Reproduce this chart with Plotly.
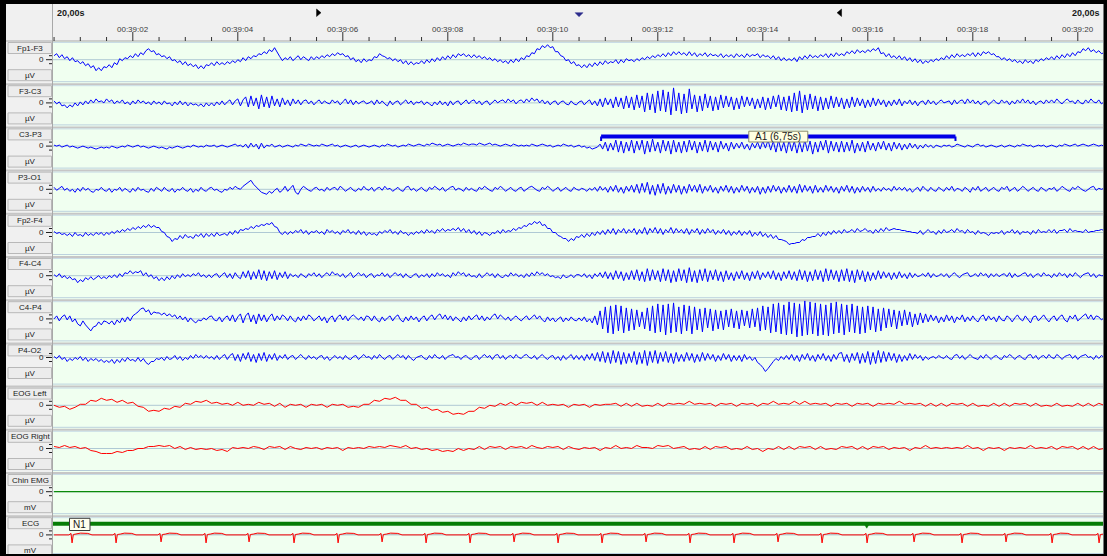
import numpy as np
import plotly.graph_objects as go

# ---------------------------------------------------------------------------
# Recording data (20 s page starting at 00:39:00.5); amplitudes in display units
# ---------------------------------------------------------------------------
EEG_DT = 0.05
EOG_DT = 0.1
T_START = 0.5

channel_names = ["Fp1-F3", "F3-C3", "C3-P3", "P3-O1", "Fp2-F4", "F4-C4",
                 "C4-P4", "P4-O2", "EOG Left", "EOG Right", "Chin EMG", "ECG"]
channel_units = ["µV"] * 10 + ["mV", "mV"]

time_tick_seconds = [2, 4, 6, 8, 10, 12, 14, 16, 18, 20]
time_tick_labels = ["00:39:02", "00:39:04", "00:39:06", "00:39:08", "00:39:10",
                    "00:39:12", "00:39:14", "00:39:16", "00:39:18", "00:39:20"]
page_length_label = "20,00s"

fp1_f3 = [
    4, 6, 2, 5, 1, 3, -1, 2, -2, -1, -4, -2, -6, -4, -8, -6, -11, -8, -11, -7,
    -8, -5, -8, -3, -5, 1, -1, 2, 1, 4, 2, 6, 3, 7, 5, 9, 11, 8, 9, 5,
    6, 3, 4, 1, 3, -1, 0, -3, -1, -5, -2, -6, -4, -7, -5, -9, -6, -9, -5, -6,
    -3, -6, -2, -5, -3, -5, -2, -4, -1, -3, 0, -2, 2, -1, 3, 1, 4, 3, 6, 5,
    8, 6, 10, 8, 12, 7, 3, -1, 2, 0, 3, -1, 2, 4, 0, 3, 1, -1, 3, 0,
    3, 1, 4, 2, 5, 3, 6, 4, 7, 5, 6, 3, 4, 0, 2, -2, 0, -3, 1, -2,
    0, -1, 3, 2, 6, 4, 3, 1, 2, -1, 1, -2, 0, -4, -1, -5, -2, -5, -3, -4,
    -1, -4, 0, -3, 1, -2, 2, -1, 3, 0, 4, 1, 5, 2, 6, 4, 6, 3, 5, 2,
    5, 2, 4, 1, 3, 0, 2, -1, 1, -2, 0, -3, -1, -4, 0, -3, 1, -2, 2, 0,
    4, 3, 7, 6, 11, 10, 14, 12, 15, 12, 13, 8, 8, 4, 3, -1, 0, -4, -2, -6,
    -5, -8, -5, -8, -4, -7, -3, -6, -2, -5, -1, -4, -2, -3, 0, -4, 0, -3, 1, -1,
    0, -2, 1, -1, 2, 0, 3, 1, 4, 2, 5, 3, 6, 3, 7, 4, 8, 5, 8, 5,
    7, 4, 8, 4, 7, 3, 6, 4, 7, 3, 6, 4, 5, 3, 6, 2, 5, 3, 5, 2,
    6, 3, 5, 2, 6, 3, 5, 4, 6, 2, 5, 3, 4, 1, 4, 0, 3, -1, 2, -1,
    1, -1, 2, -2, 3, 0, 4, 1, 5, 2, 4, 2, 5, 3, 6, 2, 6, 3, 7, 4,
    6, 4, 8, 6, 9, 6, 10, 7, 9, 7, 10, 8, 11, 9, 12, 6, 7, 3, 6, 2,
    4, 1, 4, 0, 3, -1, 2, -2, 1, -3, 0, -4, -1, -3, 0, -2, 1, -1, 2, 0,
    4, 1, 5, 2, 6, 3, 5, 3, 6, 4, 7, 3, 7, 4, 8, 6, 8, 5, 6, 3,
    3, 0, 2, -1, 1, -2, 0, -3, -1, -4, 0, -3, -1, -4, 0, -2, 1, -1, 2, 0,
    3, 0, 4, 1, 5, 2, 6, 3, 7, 4, 8, 7, 11, 9, 12, 8, 10, 7, 9, 6,
    7,
]

f3_c3 = [
    2, -1, 1, -3, -2, -5, -2, -4, 0, -3, 1, -2, 2, -1, 3, 0, 4, 1, 2, 0,
    4, 1, 3, -1, 2, 0, 3, -1, 1, -2, 2, -1, 3, 0, 2, -1, 1, -2, 2, -1,
    1, -2, 2, -1, 0, -3, 1, -2, 2, -2, 1, -3, 0, -2, -1, -3, -1, -4, 0, -3,
    0, -3, 1, -2, 2, -2, 1, 3, -2, 2, 4, -3, 3, 6, -4, 7, -3, 5, -6, 8,
    -4, 6, -5, 7, -3, 4, -4, 5, -2, 3, -3, 4, -1, 3, -2, 2, 3, -1, 2, -2,
    1, 3, -1, 2, 0, -1, 3, 0, 2, -2, 1, 4, -1, 3, -2, 2, -1, 1, 2, -1,
    0, 2, -2, 3, -1, 2, -1, -3, 2, -2, 1, 2, -2, 1, 3, -1, 2, -2, 1, 0,
    2, -2, 1, -1, -3, 1, -2, 2, -2, 1, -3, 2, -2, 1, 2, -2, 1, 3, -1, 2,
    3, -1, 2, -2, 1, 2, -2, 1, 3, 0, 2, 3, 0, 4, 1, 3, -1, 2, 3, 0,
    4, 1, 5, 2, 4, 0, 3, -1, 2, -2, 1, 2, -2, 1, 2, -1, -2, 2, -1, -2,
    1, 2, -2, 1, 3, -2, 2, -3, 4, -4, 5, -2, 4, -5, 6, -4, 5, -6, 7, -5,
    6, -7, 8, -5, 7, -9, 10, -7, 9, -10, 12, -8, 13, -9, 11, -12, 15, -8, 10, -11,
    9, -10, 14, -6, 8, -9, 7, -8, 9, -5, 7, -8, 6, -7, 8, -5, 7, -4, 6, -7,
    5, -6, 7, -4, 6, -3, 5, -6, 4, -5, 6, -7, 5, -6, 7, -4, 8, -7, 6, -8,
    7, -9, 10, -8, 12, -10, 8, -7, 9, -6, 7, -8, 6, -7, 5, -6, 7, -5, 6, -4,
    5, -6, 4, -5, 6, -4, 5, -3, 4, -5, 3, -4, 5, -3, 4, -2, 3, -4, 2, -3,
    3, -2, 4, -3, 2, -1, 3, -2, 2, -3, 1, 2, -2, 3, -1, 2, -2, 1, 3, 0,
    1, 2, -2, 3, -1, 2, 3, -1, 4, 0, 3, -1, 2, -2, 1, 2, -2, 1, 3, 0,
    -1, 3, 0, 2, -2, 2, -1, 3, 0, 4, 0, 3, -1, 2, -2, 1, 2, -1, 3, 0,
    3, 0, 4, 1, -1, 2, 4, 1, 2, -1, 3, 0, -1, 3, 0, 4, 1, 0, 3, -1,
    1,
]

c3_p3 = [
    1, 0, 1, -1, 0, 1, -1, 0, -1, -2, -1, 0, -1, -2, -1, -2, -3, -2, -1, -2,
    -1, -2, 0, -1, -2, -1, 0, -1, 1, 0, -1, 0, 1, -1, 0, -1, -2, -1, 0, -1,
    -2, -1, -2, -3, -1, -2, -1, 0, -1, -2, -1, 0, -1, 1, 0, -1, 0, -1, 1, 0,
    0, 1, -1, 0, 1, 0, -1, 0, 1, 2, 0, 1, -1, 2, -2, 3, -1, 2, -3, 3,
    -2, 1, 0, 2, -1, 0, 1, -1, 0, 1, 0, -1, 1, 0, 2, 1, 0, 2, 1, 0,
    1, 0, 2, 1, 0, 1, 2, 0, 1, -1, 0, 1, 0, -1, 0, 1, -1, 0, 1, 0,
    -1, 0, 1, 0, -1, 1, 0, 2, 1, 0, 1, -1, 0, 1, 0, 2, 1, 0, 1, 2,
    1, 0, 2, 1, 3, 2, 1, 2, 0, 1, 2, 1, 0, 1, 2, 1, 3, 2, 1, 2,
    2, 1, 3, 2, 1, 2, 3, 1, 2, 1, 0, 1, 2, 1, 0, 2, 1, 0, 1, 0,
    1, 0, 2, 1, 0, 1, 2, 1, 0, 1, -1, 0, 1, 0, 2, 1, 0, 1, -1, 0,
    1, -1, 0, -2, -1, -3, -2, -1, 2, -3, 4, -5, 3, -4, 6, -6, 5, -7, 4, -5,
    6, -7, 5, -4, 6, -8, 5, -6, 7, -5, 4, -7, 6, -5, 5, -8, 6, -6, 4, -7,
    5, -6, 6, -4, 5, -7, 4, -5, 6, -6, 5, -4, 4, -6, 5, -3, 3, -5, 4, -3,
    3, -2, 4, -3, 2, -4, 3, -2, 4, -3, 5, -2, 6, -4, 5, -6, 6, -5, 4, -7,
    6, -5, 5, -7, 4, -6, 6, -5, 5, -8, 4, -6, 5, -4, 6, -7, 5, -5, 4, -6,
    5, -6, 4, -5, 6, -7, 3, -5, 4, -6, 5, -4, 3, -5, 4, -3, 5, -4, 3, -5,
    4, -3, 3, -4, 2, -3, 3, -2, 2, -3, 1, -2, 2, -1, 1, -2, 1, 0, -1, 1,
    0, 1, -1, 0, 2, 1, 0, -1, 1, 0, -1, 1, 2, 0, 1, -1, 0, 1, 0, -1,
    0, 1, -1, 0, 1, 0, -1, 1, 0, 2, 1, 0, 1, -1, 0, 1, 0, 1, -1, 0,
    1, 0, -1, 1, 0, 2, 1, 0, 1, 2, 0, 1, 2, 1, 0, 1, 2, 1, 0, 1,
    0,
]

p3_o1 = [
    2, -1, 1, 3, -1, 1, -2, 0, -3, 1, -2, 2, -1, 1, -2, -3, 0, -1, 2, -1,
    -2, 1, -3, 0, -1, 2, -2, 1, -1, -3, 1, -2, 2, -1, 0, -2, -3, 1, -2, 2,
    0, -2, 2, -1, -2, 1, -3, 0, -1, 2, -1, -2, 1, -3, 0, -2, 2, -1, -2, 1,
    2, -1, 0, -2, -3, 0, -1, 2, 0, 3, 1, 0, 3, 5, 7, 9, 5, 2, -1, -3,
    -4, -5, -2, -4, -1, 1, -3, -1, 3, -2, 1, 4, -3, -5, 0, 3, 1, -1, -2, 1,
    2, -1, 0, -2, 2, -1, 1, 2, -1, 3, 1, -2, 0, 2, -1, -2, 1, -1, 3, 0,
    -1, 2, -2, 1, 2, -1, 3, 0, 1, -2, 0, 2, -1, -2, 2, 3, -1, 1, -2, 0,
    2, -1, -2, 2, 0, 3, 1, -1, 2, -2, 0, 2, 3, -1, 1, 0, -2, 2, -1, 1,
    -1, -2, 2, 0, 3, 1, -1, -2, 2, 0, 3, 1, -2, 0, 2, -1, -2, 1, 2, -2,
    0, 2, 3, 1, -1, -2, 2, 0, 3, 1, -2, 0, 2, -2, 0, 2, -1, -2, 2, 0,
    -1, 1, 0, -2, 1, -1, 2, -2, 3, -1, 2, -3, 3, -2, 4, -3, 2, -4, 3, -2,
    4, -3, 5, -4, 6, -3, 7, -5, 4, -6, 5, -4, 6, -5, 3, -4, 5, -3, 4, -5,
    3, -4, 5, -2, 4, -3, 5, -4, 3, -2, 4, -3, 2, -4, 3, -2, 4, -3, 3, -4,
    2, -3, 4, -2, 3, -4, 2, -3, 3, -5, 2, -4, 3, -3, 4, -2, 3, -4, 2, -3,
    4, -3, 3, -4, 5, -3, 4, -2, 3, -4, 4, -3, 2, -3, 4, -2, 3, -3, 2, -4,
    3, -2, 4, -3, 3, -4, 2, -3, 3, -2, 2, -3, 3, -2, 1, -2, 2, -1, 1, -2,
    3, -1, 2, -1, 2, -2, 1, -3, 0, 2, -2, 3, 0, -2, 2, -1, -2, 2, 0, -2,
    2, -1, 3, -2, 1, 0, -2, 2, 0, -3, 2, -1, 3, -2, 0, 2, -2, 0, 2, -1,
    -2, 2, 0, 3, -2, 0, 2, -2, 0, 3, 1, -2, 0, 2, -1, -2, 2, 0, -2, 1,
    0, 2, -2, 0, 3, 1, -1, -2, 2, 0, 3, 1, -1, -2, 0, 2, 3, -1, 1, 0,
    1,
]

fp2_f4 = [
    1, -1, 0, -2, -1, -3, -1, -4, 0, -3, -2, -4, 0, -3, -1, -3, 0, -2, 0, -3,
    0, -2, 1, -1, 2, 0, 3, 1, 4, 2, 5, 3, 6, 4, 7, 5, 8, 5, 7, 5,
    5, 1, 0, -4, -5, -9, -6, -7, -3, -6, -2, -5, -4, -6, -2, -4, -1, -5, -1, -4,
    -1, -4, 0, -3, -2, -1, -3, 1, -2, 2, -1, 3, 2, 4, 3, 6, 4, 7, 6, 8,
    7, 9, 8, 10, 6, 5, 0, -2, 1, -2, 1, -1, 2, 0, 3, -1, 2, -2, 1, 0,
    2, -1, 1, -2, 3, 0, 2, -1, 1, -2, 2, 0, 3, -1, 1, -2, 2, -2, 1, -3,
    0, -2, -1, -3, 1, -1, 2, 0, 3, -1, 1, -2, 2, -1, 0, -3, 0, -2, 1, -1,
    2, -1, 3, 0, 2, -1, 3, 1, 4, 1, 3, 2, 4, 2, 5, 1, 4, 0, 3, -1,
    2, -2, 1, -3, 0, -1, -3, 0, -1, 2, -1, 3, 0, 2, 1, 4, 2, 5, 4, 7,
    6, 9, 8, 11, 9, 11, 7, 8, 4, 4, 0, 0, -3, -4, -6, -6, -9, -6, -8, -4,
    -5, -2, -5, -1, -4, 0, -3, 1, -2, 2, -2, 3, -1, 4, -2, 3, 0, 4, -1, 3,
    0, 4, -2, 3, -1, 5, -2, 4, 0, 5, -1, 4, -2, 3, 0, 5, -1, 4, 0, 3,
    -1, 4, -2, 3, 0, 4, -2, 3, -1, 4, 0, 3, -2, 2, -1, 3, -2, 2, -3, 1,
    -2, 2, -3, 1, -2, 2, -4, 0, -3, 1, -4, -1, -5, -2, -6, -3, -7, -7, -8, -9,
    -12, -11, -11, -10, -10, -7, -8, -5, -5, -4, -4, -1, -4, 0, -3, 1, -2, 2, -1, 2,
    -1, 3, 0, 1, 3, 0, 4, 1, 2, 4, 1, 2, -1, 3, 0, 4, 1, 5, 2, 3,
    4, 3, 3, 2, 2, 1, 1, 0, 0, -1, 2, -2, 1, 3, 0, 1, -2, 2, -1, 3,
    0, 1, 3, 0, 4, 1, 2, -1, 3, 0, 1, -2, 2, -1, 0, -1, -3, 0, -1, 0,
    -1, 2, -2, 1, 0, 3, -1, 2, -2, 1, 0, 1, -2, 2, -1, 3, 0, 1, 0, 3,
    0, 3, -1, 2, 2, 3, 0, 4, 1, 2, 1, 1, 0, 3, 0, 1, 1, 2, 2, 3,
    2,
]

f4_c4 = [
    1, -1, 2, -2, 0, -3, -1, -4, -3, -7, -4, -6, -2, -4, -1, -4, -2, 0, -3, -1,
    -3, 0, -2, 1, -2, 2, -1, 3, 2, 5, 2, 4, 3, 5, 0, 3, -1, 1, -3, -1,
    -5, -2, -5, -1, -4, 0, -3, 1, -2, 2, -1, 1, -1, 2, 0, 3, -1, 1, -2, 1,
    -2, 1, 2, -2, 1, 3, -2, 2, -3, 3, -1, -3, 4, -2, 5, -4, 4, -3, 6, -4,
    5, -5, 4, -3, 5, -4, 3, -2, 4, -3, 2, -1, 1, -2, 2, 0, -2, 2, 0, 3,
    -1, 2, -2, 1, 3, 0, 4, 1, 2, -1, 2, -2, 1, 3, -2, 1, 3, 0, 2, -2,
    1, 2, -2, 1, 0, 3, -1, 2, -2, 1, 3, 0, 2, -2, 2, -1, -2, 1, 2, -2,
    1, -1, 2, -2, 2, -1, 3, 0, 2, -1, 1, -2, 3, 0, 4, 1, 3, -1, 2, -1,
    0, -2, 2, -2, 1, 3, 0, 2, -2, 2, -1, -2, 1, -1, 3, 0, 2, -1, 1, -2,
    2, -1, 3, 0, 4, 1, 3, 0, 2, -1, 0, -2, -1, -3, 1, -2, -1, 1, -2, 1,
    1, -1, 2, -2, 1, -3, 2, -1, 3, -2, 4, -3, 3, -4, 5, -3, 4, -5, 3, -4,
    5, -4, 6, -5, 4, -6, 7, -5, 6, -4, 5, -6, 7, -5, 6, -7, 5, -6, 7, -5,
    6, -7, 8, -6, 5, -7, 6, -5, 7, -6, 5, -4, 6, -5, 4, -6, 5, -4, 3, -5,
    4, -3, 5, -4, 3, -5, 4, -3, 5, -4, 3, -2, 4, -3, 5, -4, 3, -5, 4, -3,
    5, -4, 4, -5, 6, -4, 5, -6, 4, -5, 6, -4, 5, -6, 7, -5, 6, -4, 5, -6,
    6, -5, 7, -6, 5, -7, 6, -4, 5, -6, 4, -5, 3, -4, 5, -3, 4, -2, 3, -4,
    3, -3, 4, -2, 2, -3, 3, -2, 2, -1, 0, 2, -1, 3, -2, 2, -1, 0, 2, -1,
    2, -2, 1, 3, 0, -2, 1, 2, 3, -1, 0, 2, -1, 3, 0, 2, -2, 2, -1, 2,
    -1, 1, 2, -1, 3, -2, 2, -1, 0, 2, 3, -1, 2, -2, 1, 2, -1, 3, 0, 1,
    -2, 2, -1, 3, 0, 2, -2, 2, -1, 3, 0, -2, 1, 2, 3, -1, 2, -2, 1, 0,
    0,
]

c4_p4 = [
    0, 3, -2, 2, 4, -1, 3, -3, 0, -5, -7, -2, -6, -9, -12, -8, -7, -3, -6, -2,
    -3, -5, -2, -6, -1, -4, 1, -3, 2, -2, 3, 5, 7, 10, 11, 7, 9, 4, 7, 6,
    6, 4, 6, 3, 5, 2, 4, 0, 3, -1, 2, -3, 1, -2, -4, -1, -2, 1, -1, 2,
    3, -1, -2, 2, -3, 1, 3, -2, 4, -3, 2, 5, -4, 3, 6, -3, 4, -5, 5, -2,
    4, -3, 2, 5, -2, 3, -1, 4, 2, -2, 3, -1, -3, 2, -2, 3, -1, 4, 2, -2,
    1, 3, -2, 2, -4, 1, 3, -3, 2, 4, -1, 3, -2, 2, 4, 1, -1, 2, -2, 3,
    2, -2, 3, -1, -3, 2, -2, 1, 3, -2, 2, 4, -1, -3, 2, -2, 3, -1, 2, -3,
    1, 3, -2, 2, 4, -1, 3, 5, 0, 4, -1, 3, -2, 2, -1, -3, 2, -2, 3, -1,
    2, 4, -1, 3, -2, 2, -1, 3, 5, 0, 4, 1, -1, 2, -2, 1, 3, 0, -2, 1,
    3, -1, 2, 4, 0, 3, -1, -3, 2, -2, 1, -3, 0, 2, -3, 1, -2, 2, -1, -2,
    1, -2, 2, -3, 0, -4, 3, -6, 8, -10, 12, -14, 13, -15, 14, -12, 13, -14, 11, -12,
    10, -11, 9, -8, 7, -10, 11, -12, 13, -14, 15, -13, 14, -16, 15, -14, 16, -13, 12, -15,
    14, -12, 13, -15, 12, -11, 10, -13, 11, -9, 10, -12, 9, -10, 8, -11, 9, -8, 10, -9,
    8, -10, 9, -7, 8, -9, 10, -8, 11, -12, 13, -11, 12, -14, 15, -13, 16, -15, 14, -16,
    17, -15, 16, -18, 15, -17, 18, -16, 17, -15, 16, -17, 15, -16, 14, -17, 16, -15, 17, -14,
    15, -16, 14, -13, 15, -14, 13, -15, 12, -14, 13, -11, 12, -13, 10, -12, 11, -9, 10, -8,
    9, -10, 8, -7, 9, -6, 7, -8, 5, -6, 6, -4, 5, -3, 4, -2, 3, -4, 2, -3,
    4, -2, 3, -4, 2, -1, 4, -3, 2, -2, 3, -1, -3, 2, 4, -2, 3, -1, 2, -3,
    3, -1, -2, 3, 1, -3, 1, 4, 0, -2, 3, -1, -4, 2, 3, -2, 1, 4, 0, -3,
    1, 3, -2, 2, 4, -1, -3, 3, 0, 4, -2, 1, 3, 5, 0, 4, -1, 3, 2, -1,
    1,
]

p4_o2 = [
    1, -1, 2, -2, 0, -4, -1, -3, 0, -2, 1, -3, 0, -4, -1, -3, -1, -4, -2, -5,
    -3, -5, -2, -6, -2, -5, -1, -4, 0, -3, -2, -4, 0, -4, -1, -5, -7, -4, -4, -1,
    -2, 0, -3, 1, -2, -1, 2, -2, 1, -3, 0, -2, 2, -1, 3, 0, 2, -1, 2, -1,
    1, -2, 2, -2, 1, 3, -2, 2, 4, -3, 3, -4, 4, -2, 5, -4, 3, -5, 4, -3,
    5, -4, 3, -2, 4, -3, 2, -1, 3, -2, 1, 2, -2, 1, 3, 0, -2, 2, -1, 1,
    -2, 1, 2, -2, 1, -3, 0, 2, -1, 1, -2, 2, -1, -2, 1, 2, -2, 1, 3, 0,
    1, -2, 2, -1, 3, 0, -2, 1, 2, -2, 1, 3, 0, 2, -2, 2, -1, -3, 0, 1,
    2, -1, -2, 2, -1, 3, 0, -1, 2, -2, 1, 2, 3, 0, 1, -2, 1, 2, -1, -2,
    1, 2, -2, 1, 3, 0, 2, -2, 2, 3, -1, 2, -2, 1, 2, -1, 3, 0, -1, 2,
    3, 0, -1, 2, -2, 1, 3, 0, -2, 1, 2, -2, 1, -3, 2, -2, 1, 3, -2, 2,
    -2, 2, -3, 3, -2, 4, -3, 5, -4, 6, -5, 5, -6, 7, -5, 6, -7, 5, -6, 4,
    -5, 6, -7, 5, -6, 7, -8, 6, -5, 7, -6, 5, -4, 6, -5, 4, -6, 5, -4, 3,
    -4, 5, -3, 4, -5, 3, -4, 5, -3, 4, -2, 3, -4, 2, -3, 4, -2, 3, -4, 2,
    -3, 2, -4, 3, -2, 1, -3, 0, -5, -7, -10, -14, -11, -7, -4, -1, -3, 1, -2, 2,
    -2, 3, -3, 2, -4, 3, -2, 4, -3, 2, -4, 3, -2, 4, -3, 2, -4, 3, -2, 4,
    5, -4, 3, -5, 4, -3, 5, -6, 4, -5, 6, -7, 5, -6, 7, -5, 6, -4, 5, -3,
    4, -5, 3, -4, 2, -3, 4, -2, 3, -1, 2, -3, 1, -2, 0, 1, -1, 2, 0, -1,
    2, -1, -2, 2, 3, -1, 2, -2, 1, 3, 0, -1, -2, 2, -1, 3, 0, -2, 1, 2,
    -1, -2, 2, 0, 3, 1, -2, 1, 2, -1, -2, 2, 3, -1, 2, -2, 1, 2, -1, 3,
    0, -1, 3, 1, -2, 1, 2, 3, -1, 2, -2, 1, 2, 3, 0, 1, -2, 2, -1, 2,
    0,
]

eog_left = [
    0, -2, -1, -4, -2, 1, 1, 5, 4, 7,
    5, 6, 3, 5, 2, 3, -1, -2, -6, -5,
    -6, -3, -4, -1, -2, 2, 1, 4, 3, 5,
    2, 3, 1, 2, 0, 3, 0, 1, 0, 3,
    1, 2, -1, 2, -2, 1, 0, 1, -2, 1,
    0, 1, -2, 1, 0, 1, -2, -1, -2, 1,
    1, 5, 4, 7, 6, 8, 5, 5, 1, 1,
    -3, -2, -5, -4, -7, -6, -9, -8, -9, -6,
    -6, -2, -3, 0, -1, 2, 0, 3, 0, 3,
    2, 3, 0, 3, 0, 1, 0, 1, -2, 1,
    0, 1, -2, 1, 0, 1, 1, 2, -1, 2,
    -1, 2, -1, 0, -1, 2, -1, 2, 1, 2,
    1, 4, 1, 2, 1, 2, -1, 2, 1, 2,
    -1, 2, 1, 2, -1, 2, 1, 4, 1, 2,
    1, 4, 1, 4, 1, 2, 1, 2, -1, 2,
    1, 2, -1, 2, 1, 2, -1, 2, 1, 2,
    1, 4, 1, 2, 1, 2, -1, 2, -1, 2,
    -1, 2, 1, 2, -1, 2, -1, 0, -1, 2,
    -1, 2, -1, 2, 1, 2, -1, 2, -1, 0,
    -1, 2, -1, 0, -1, 2, -1, 2, -1, 2,
    0,
]

eog_right = [
    2, 1, 3, 1, 2, 0, 1, -2, -3, -5,
    -5, -5, -3, -4, -2, -2, 0, 0, 2, 2,
    3, 2, 3, 0, 2, -1, 1, -1, 0, -1,
    0, -2, -1, -3, 1, 0, 1, 0, 2, 1,
    -1, 2, 1, 2, -1, 2, 0, -1, 1, 0,
    1, -1, 1, 0, 1, -2, 1, 0, 1, 0,
    2, 1, 2, 1, 3, 2, 1, 3, 0, 1,
    -1, 0, -2, -1, -3, -2, -3, 0, -2, 0,
    -1, 2, -1, 2, 1, 2, -1, 2, 1, 2,
    0, 3, 1, 0, 2, 1, 2, -1, 2, 0,
    -1, 1, 0, 1, -2, 1, 0, 3, 0, 1,
    0, 3, 1, 1, 0, 3, 2, 3, 0, 1,
    2, -1, 0, -1, 2, -1, 2, 1, 2, -1,
    0, -1, 2, -1, 0, -3, 0, -1, 2, -1,
    2, -1, 2, 1, 2, -1, 2, -1, 0, -1,
    2, 1, 2, -1, 2, -1, 2, 1, 2, -1,
    1, 0, 1, -2, 1, 0, 3, 0, 1, 0,
    1, 0, 1, 0, 3, 0, 1, -2, 1, 0,
    1, -2, 1, 0, 1, 0, 3, 0, 1, 0,
    2, -1, 2, 1, 2, -1, 2, -1, 2, -1,
    0,
]

chin_emg_t = [0.5, 20.5]
chin_emg = [0, 0]

# ECG: R-peak times (s) with each complex's spike depth, and the complex shape
ecg_r_peaks = [0.843, 1.681, 2.538, 3.395, 4.214, 5.071, 5.910, 6.748, 7.586,
               8.424, 9.262, 10.100, 10.938, 11.776, 12.614, 13.452, 14.290,
               15.129, 15.986, 16.881, 17.795, 18.633, 19.510, 20.405]
ecg_r_depth = [-8, -8, -7, -8, -7, -8, -8, -7, -8, -8, -7, -8, -8, -7, -8,
               -8, -7, -8, -8, -7, -8, -7, -8, -8]
ecg_complex_dt = [-0.06, -0.02, 0.0, 0.025, 0.08, 0.16, 0.30, 0.38]
ecg_complex_v = [0.0, 1.5, None, 0.4, 0.8, 1.8, 1.5, 0.0]

sleep_stage = "N1"
arousal_label = "A1"
arousal_start, arousal_end = 10.92, 17.67
page_marks = {"start": 5.5, "cursor": 10.5, "end": 15.5}

# ---------------------------------------------------------------------------
# Page geometry (pixels)
# ---------------------------------------------------------------------------
W, H = 1107, 556
PLOT_L, PLOT_R = 53, 1103
T0, T1 = 0.48, 20.48
HEADER_B = 41
ROW_PITCH = 43.2
FONT = "Liberation Sans"


def pxp(x):
    return x / W


def pyp(y):
    return 1 - y / H


row_zero = [59.7 + ROW_PITCH * i for i in range(12)]
row_zero[7] = 357.5
band_top = [HEADER_B + ROW_PITCH * i for i in range(12)]
band_bot = [min(H, b + ROW_PITCH) for b in band_top]

# build ECG series from its complexes
ecg_t, ecg_v = [T_START], [0.0]
for r, depth in zip(ecg_r_peaks, ecg_r_depth):
    for dt, v in zip(ecg_complex_dt, ecg_complex_v):
        ecg_t.append(r + dt)
        ecg_v.append(depth if v is None else v)
ecg_t.append(20.5)
ecg_v.append(0.0)

eeg_blue = "#0000FF"
series = [
    (fp1_f3, EEG_DT, eeg_blue), (f3_c3, EEG_DT, eeg_blue), (c3_p3, EEG_DT, eeg_blue),
    (p3_o1, EEG_DT, eeg_blue), (fp2_f4, EEG_DT, eeg_blue), (f4_c4, EEG_DT, eeg_blue),
    (c4_p4, EEG_DT, eeg_blue), (p4_o2, EEG_DT, eeg_blue),
    (eog_left, EOG_DT, "#FF0000"), (eog_right, EOG_DT, "#FF0000"),
]

fig = go.Figure()
for i, (vals, dt, color) in enumerate(series):
    t = T_START + dt * np.arange(len(vals))
    fig.add_trace(go.Scatter(x=t, y=vals, mode="lines", xaxis="x",
                             yaxis="y" if i == 0 else f"y{i + 1}",
                             line=dict(color=color, width=1), hoverinfo="skip",
                             showlegend=False))
fig.add_trace(go.Scatter(x=chin_emg_t, y=chin_emg, mode="lines", xaxis="x", yaxis="y11",
                         line=dict(color="#0A8A0A", width=1.2), hoverinfo="skip",
                         showlegend=False))
fig.add_trace(go.Scatter(x=ecg_t, y=ecg_v, mode="lines", xaxis="x", yaxis="y12",
                         fill="tozeroy", fillcolor="rgba(175,175,175,0.55)",
                         line=dict(color="#FF0000", width=1), hoverinfo="skip",
                         showlegend=False))

layout_axes = {}
layout_axes["xaxis"] = dict(domain=[pxp(PLOT_L), pxp(PLOT_R)], range=[T0, T1],
                            visible=False, anchor="y", fixedrange=True)
for i in range(12):
    key = "yaxis" if i == 0 else f"yaxis{i + 1}"
    layout_axes[key] = dict(domain=[pyp(band_bot[i]), pyp(band_top[i])],
                            range=[-(band_bot[i] - row_zero[i]), row_zero[i] - band_top[i]],
                            visible=False, anchor="x", fixedrange=True)

shapes = []
annotations = []


def rect(x0, y0, x1, y1, fill, line=None, lw=0, layer="below"):
    shapes.append(dict(type="rect", xref="paper", yref="paper",
                       x0=pxp(x0), x1=pxp(x1), y0=pyp(y1), y1=pyp(y0),
                       fillcolor=fill, line=dict(color=line or fill, width=lw),
                       layer=layer))


def seg(x0, y0, x1, y1, color, width=1, layer="below"):
    shapes.append(dict(type="line", xref="paper", yref="paper",
                       x0=pxp(x0), x1=pxp(x1), y0=pyp(y0), y1=pyp(y1),
                       line=dict(color=color, width=width), layer=layer))


def poly(points, fill, layer="above", xref="paper"):
    if xref == "paper":
        pts = [(pxp(x), pyp(y)) for x, y in points]
    else:
        pts = [(x, pyp(y)) for x, y in points]
    path = "M " + " L ".join(f"{x:.5f} {y:.5f}" for x, y in pts) + " Z"
    shapes.append(dict(type="path", xref=xref, yref="paper", path=path,
                       fillcolor=fill, line=dict(color=fill, width=0.5), layer=layer))


def text(x, y, s, size=8, color="#1A1A1A", xanchor="center", xref="paper", bold=False):
    annotations.append(dict(x=pxp(x) if xref == "paper" else x, y=pyp(y),
                            xref=xref, yref="paper", text=f"<b>{s}</b>" if bold else s,
                            showarrow=False, xanchor=xanchor, yanchor="middle",
                            font=dict(family=FONT, size=size, color=color)))


# plot area background
rect(PLOT_L, HEADER_B, PLOT_R, H, "#F0FFF0")

# rows: guide lines, separators, label column boxes
for i in range(12):
    top, bot, z = band_top[i], band_bot[i], row_zero[i]
    seg(PLOT_L, top + 1.5, PLOT_R, top + 1.5, "#C9DCE6", 1)
    seg(PLOT_L, bot - 2.5, PLOT_R, bot - 2.5, "#BCD2DE", 1)
    seg(PLOT_L, z, PLOT_R, z, "#AFC9D4", 1)
    if bot < H:
        seg(6, bot, PLOT_R, bot, "#C6C6C6", 2)
    # label boxes
    rect(8, top + 1.5, 51.5, top + 12.5, "#ECECEC", "#B8B8B8", 1, layer="above")
    rect(8, z + 10, 51.5, z + 21, "#ECECEC", "#B8B8B8", 1, layer="above")
    text(30, top + 7, channel_names[i])
    text(30, z + 15.5, channel_units[i])
    text(45.5, z - 0.5, "0", xanchor="right")
    seg(46, z, 52, z, "#202020", 1, layer="above")
    seg(49, z - 4, 52, z - 4, "#202020", 1, layer="above")
    seg(49, z + 4, 52, z + 4, "#202020", 1, layer="above")

# label column / plot separator and header bottom edge
seg(52.5, 4, 52.5, H, "#A8A8A8", 1, layer="above")
seg(6, HEADER_B, PLOT_R, HEADER_B, "#A8A8A8", 1, layer="above")

# time axis: minor ticks every 0.5 s, major ticks with labels every 2 s
for k in range(int(T0 * 2) + 1, int(T1 * 2) + 1):
    ts = k / 2
    major = ts in time_tick_seconds
    shapes.append(dict(type="line", xref="x", yref="paper", x0=ts, x1=ts,
                       y0=pyp(HEADER_B), y1=pyp(HEADER_B - (9 if major else 4)),
                       line=dict(color="#303030", width=1), layer="above"))
for ts, lab in zip(time_tick_seconds, time_tick_labels):
    text(ts, 29, lab, size=8, color="#3C3C3C", xref="x")

text(55, 13, page_length_label, size=9, color="#1A1A1A", xanchor="left", bold=True)
text(1102, 13, page_length_label, size=9, color="#1A1A1A", xanchor="right", bold=True)

# page markers in the header
poly([(page_marks["start"], 9), (page_marks["start"], 16.5), (page_marks["start"] + 0.085, 12.75)],
     "#000000", xref="x")
poly([(page_marks["cursor"] - 0.075, 12.7), (page_marks["cursor"] + 0.075, 12.7),
      (page_marks["cursor"], 16.7)], "#2B2B8C", xref="x")
poly([(page_marks["end"], 9), (page_marks["end"], 16.5), (page_marks["end"] - 0.085, 12.75)],
     "#000000", xref="x")

# arousal event on C3-P3
a_y = 136.5
shapes.append(dict(type="line", xref="x", yref="paper", x0=arousal_start, x1=arousal_end,
                   y0=pyp(a_y), y1=pyp(a_y), line=dict(color="#0000E6", width=4),
                   layer="above"))
for te in (arousal_start, arousal_end):
    shapes.append(dict(type="line", xref="x", yref="paper", x0=te, x1=te,
                       y0=pyp(a_y), y1=pyp(a_y + 4.5), line=dict(color="#0000E6", width=2),
                       layer="above"))
a_mid = (arousal_start + arousal_end) / 2
a_mid_px = PLOT_L + (a_mid - T0) * (PLOT_R - PLOT_L) / (T1 - T0)
rect(a_mid_px - 29.5, 131.2, a_mid_px + 29.5, 142, "#FFFFE1", "#8A8A6A", 1, layer="above")
dur = f"{arousal_end - arousal_start:.2f}".replace(".", ",")
text(a_mid, 136.8, f"{arousal_label} ({dur}s)", size=10, color="#1A1A1A", xref="x")

# sleep stage band on the ECG row
st_y = 523.7
shapes.append(dict(type="line", xref="x", yref="paper", x0=T0, x1=T1, y0=pyp(st_y),
                   y1=pyp(st_y), line=dict(color="#067D06", width=4), layer="above"))
poly([(15.93, st_y), (16.03, st_y), (15.98, st_y + 4.5)], "#067D06", xref="x")
rect(69.5, 518.3, 90, 530.5, "#FFFFEE", "#3A3A3A", 1, layer="above")
text(79.8, 524.6, sleep_stage, size=10, color="#1A1A1A")

# outer black frame
rect(0, 0, 6, H, "#000000", layer="above")
rect(0, 0, W, 4, "#000000", layer="above")
rect(1103.5, 0, W, H, "#000000", layer="above")
rect(0, 554, W, H, "#000000", layer="above")

fig.update_layout(width=W, height=H, autosize=False,
                  margin=dict(l=0, r=0, t=0, b=0),
                  paper_bgcolor="#F0F0F0", plot_bgcolor="rgba(0,0,0,0)",
                  showlegend=False, shapes=shapes, annotations=annotations,
                  **layout_axes)
fig.write_html("out.html")
